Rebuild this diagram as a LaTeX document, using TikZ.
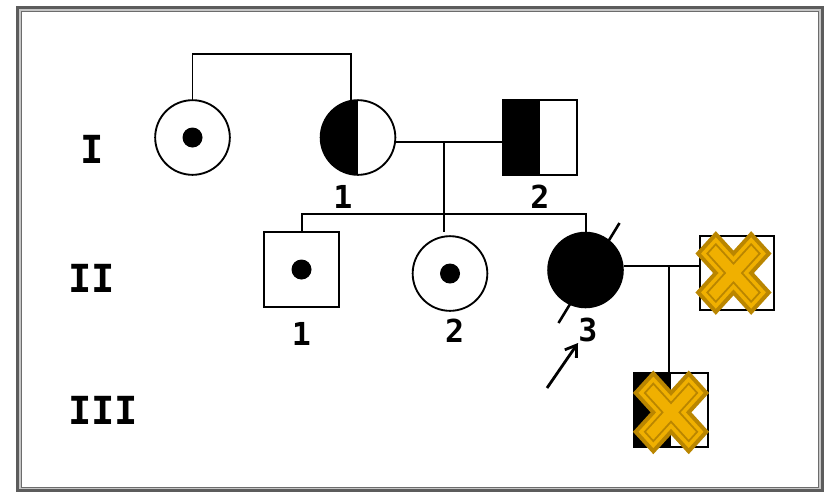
\documentclass[tikz,border=0pt]{standalone}
\usepackage{fontspec}
\setmonofont{DejaVu Sans Mono}
\usetikzlibrary{arrows.meta}
\definecolor{xgold}{RGB}{240,176,0}
\definecolor{xedge}{RGB}{186,134,0}
\definecolor{framegray}{RGB}{92,92,92}
% arms of the cross: half width #1, half length #2
\newcommand{\crossarms}[2]{(#2,-#1) -- (#2,#1) -- (#1,#1) -- (#1,#2) -- (-#1,#2) -- (-#1,#1) -- (-#2,#1) -- (-#2,-#1) -- (-#1,-#1) -- (-#1,-#2) -- (#1,-#2) -- (#1,-#1) -- cycle}
\tikzset{
    fnode/.style = {circle, line width=1.6pt, draw=black, fill=white, minimum size=2.24cm, inner sep=0pt},
    mnode/.style = {rectangle, line width=1.6pt, draw=black, fill=white, minimum size=2.24cm, inner sep=0pt},
    carrier/.style = {path picture={\fill[black] (path picture bounding box.center) circle[radius=0.3cm];}},
    halfaff/.style = {path picture={\fill[black] (path picture bounding box.south west) rectangle (path picture bounding box.north);}},
    affected/.style = {fill=black},
    lbl/.style = {font=\ttfamily\bfseries\fontsize{27}{27}\selectfont, inner sep=0pt},
    gennode/.style = {font=\ttfamily\bfseries\fontsize{33}{33}\selectfont, inner sep=0pt},
    edgen/.style = {-, line width=1.7pt, black},
    proband/.style = {-{Straight Barb[length=9pt,width=12pt]}, line width=2.4pt, black},
    xmark/.pic = {
      \filldraw[xedge, fill=xgold, line width=3.4pt, yscale=1.1, rotate=45] \crossarms{12.5}{37.5};
      \draw[xedge, line width=1.5pt, yscale=1.1, rotate=45] \crossarms{6}{31};
    }
}

\begin{document}
\begin{tikzpicture}[x=0.03cm, y=-0.03cm, label distance=8pt]
  \useasboundingbox (0,0) rectangle (825,492);
  % frame
  \draw[framegray, line width=2.6pt] (17.5,7.5) rectangle (822.8,490.5);
  \draw[gray!45, line width=1.4pt] (20.2,10.2) rectangle (820.2,488.6);
  \draw[gray!85!black, line width=0.9pt] (21.6,11.6) rectangle (818.6,487.4);

  % generations
  \node[gennode] (g1) at (92,149) {I};
  \node[gennode] (g2) at (92,278) {II};
  \node[gennode] (g3) at (103,410) {III};

  % generation I
  \node[fnode, carrier] (i0) at (192.5,137.5) {};
  \node[fnode, halfaff, label={[lbl, xshift=-13pt]below:1}] (i1) at (358,137.5) {};
  \node[mnode, halfaff, label={[lbl]below:2}] (i2) at (540,137.5) {};

  % generation II
  \node[mnode, carrier, label={[lbl, label distance=12pt]below:1}] (ii1) at (301.5,269.5) {};
  \node[fnode, carrier, label={[lbl, xshift=4pt, label distance=6pt]below:2}] (ii2) at (450,273.5) {};
  \node[fnode, affected, label={[lbl, xshift=2pt]below:3}] (ii3) at (585.5,270) {};
  \node[mnode] (ii4) at (737,273) {};

  % generation III
  \node[mnode, halfaff] (iii1) at (671,410) {};

  % matings and sibships
  \coordinate (top) at (270,54);
  \coordinate (m1) at (444,141);
  \coordinate (sib) at (444,214);
  \coordinate (m2) at (669,266);
  \draw[edgen] (i0.north) |- (top) -| (i1.100);
  \draw[edgen] (i1.-6) -- (i1.-6 -| i2.west);
  \draw[edgen] (m1) -- ([yshift=3pt]m1 |- ii2.north);
  \draw[edgen] (ii1.north) |- (sib) -| (ii3.north);
  \draw[edgen] (ii3.6) -- (ii3.6 -| ii4.west);
  \draw[edgen] (m2) -- (m2 |- iii1.north);

  % deceased, proband
  \draw[edgen, line width=2.2pt] ([shift={(-27,53)}]ii3.center) -- ([shift={(34,-47)}]ii3.center);
  \coordinate (ptail) at (547,388);
  \coordinate (phead) at (578,343);
  \draw[proband] (ptail) -- (phead);

  % crossed out
  \pic at ([xshift=-3pt]ii4.center) {xmark};
  \pic at ([yshift=-2pt]iii1.center) {xmark};
\end{tikzpicture}
\end{document}
